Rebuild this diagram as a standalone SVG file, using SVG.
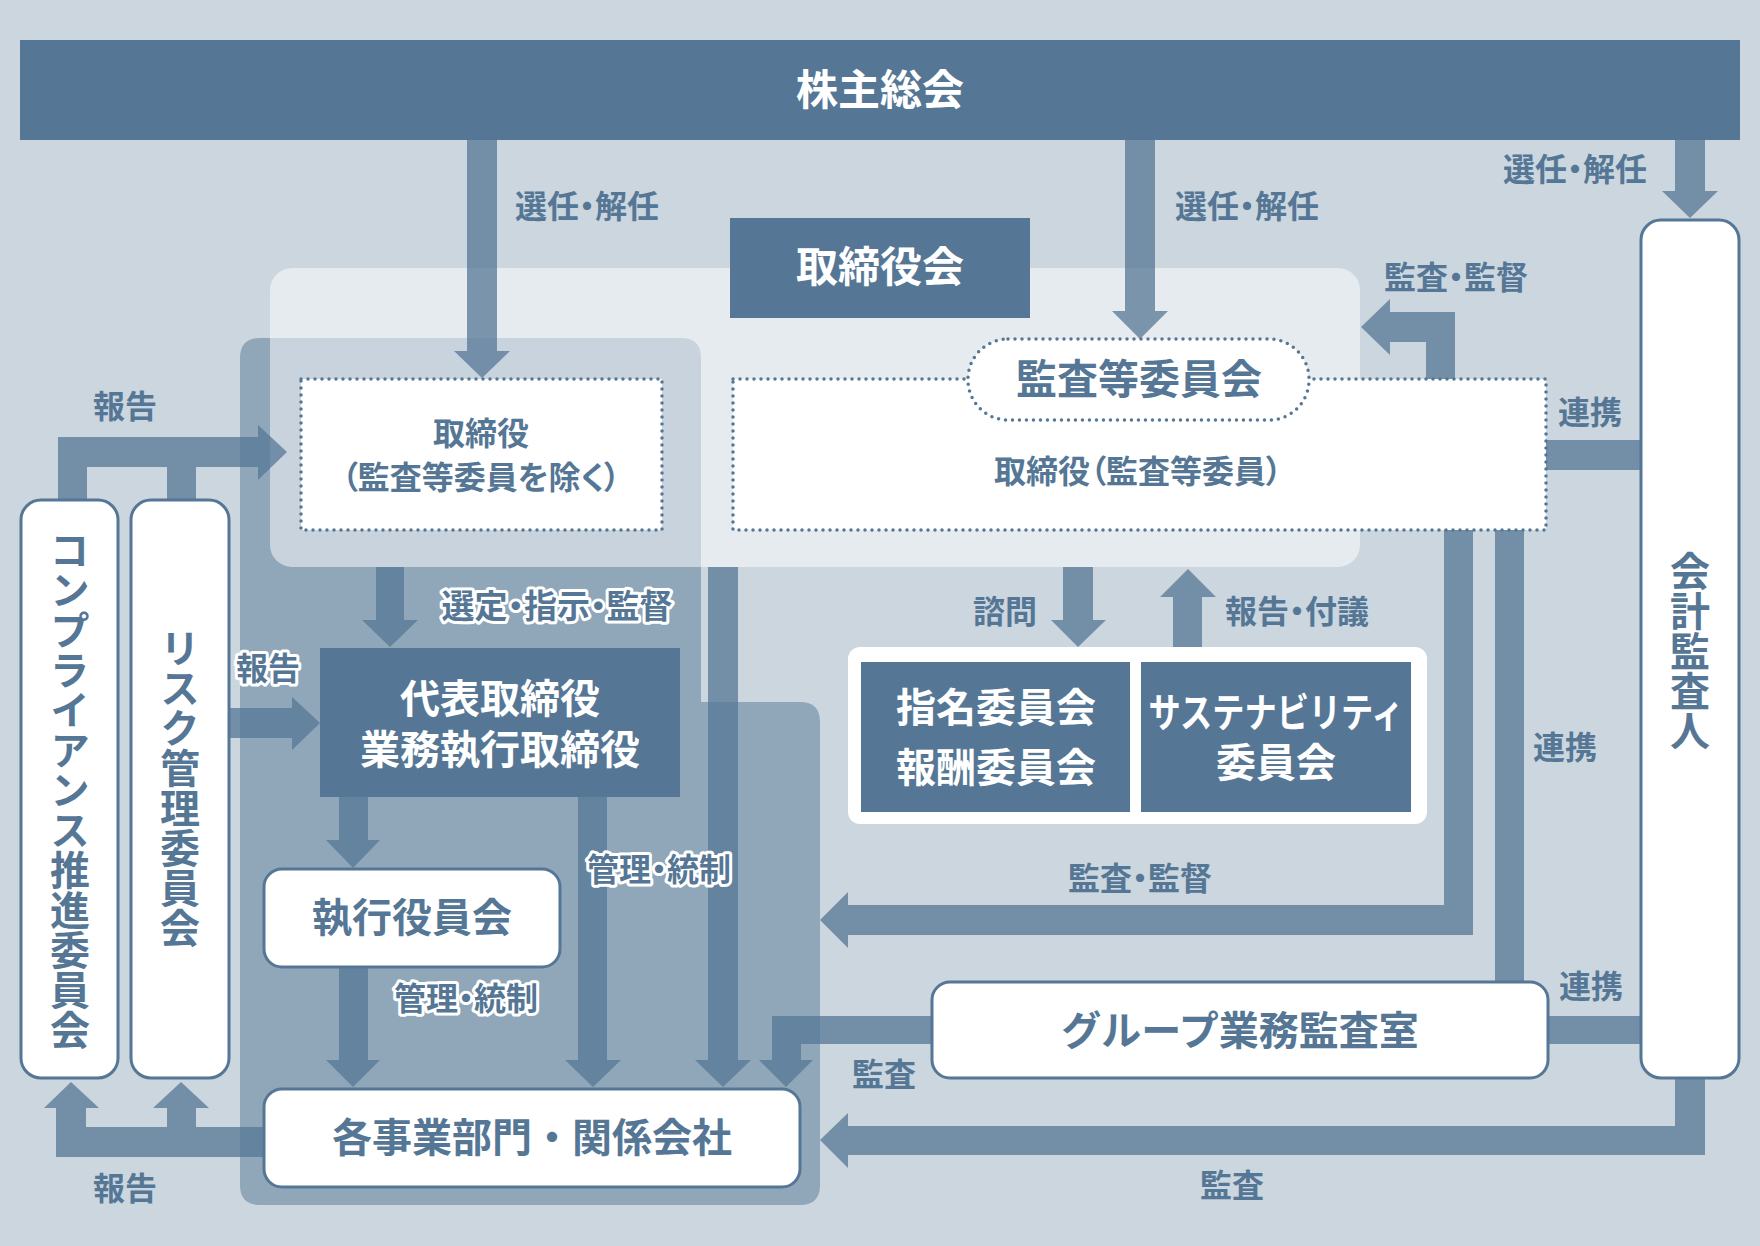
<svg xmlns="http://www.w3.org/2000/svg" width="1760" height="1246" viewBox="0 0 1760 1246">
<style>
text{font-family:"Noto Sans CJK JP","Noto Sans CJK SC",sans-serif;font-weight:700}
.wt{fill:#fff;text-anchor:middle;font-size:40px}
.bt{fill:#557795;text-anchor:middle;font-size:40px}
.mt{fill:#557795;text-anchor:middle;font-size:32px;font-feature-settings:"palt"}
.lbl{fill:#557795;text-anchor:middle;font-size:32px;font-feature-settings:"palt"}
.halo{paint-order:stroke;stroke:#fff;stroke-width:6px;stroke-linejoin:round}
.dark{fill:#557795}
.box{fill:#fff;stroke:#557795;stroke-width:3}
.dot{fill:#fff;stroke:#557795;stroke-width:3.5;stroke-dasharray:0 7;stroke-linecap:round}
.arr{fill:#557795;fill-opacity:0.75}
.vt{writing-mode:vertical-rl;text-orientation:upright}
</style>
<rect width="1760" height="1246" fill="#cbd6df"/>
<path id="exec-area" d="M260,338 H681 Q701,338 701,358 V702 H800 Q820,702 820,722 V1185 Q820,1205 800,1205 H260 Q240,1205 240,1185 V358 Q240,338 260,338 Z" fill="#557795" fill-opacity="0.5"/>
<rect id="board-area" x="270" y="268" width="1090" height="299" rx="22" fill="#fff" fill-opacity="0.5"/>

<g id="connectors">
  <path class="arr" d="M467,140 H497 V351 H510 L482,378 L454,351 H467 Z"/>
  <path class="arr" d="M1125,140 H1155 V311 H1168 L1140,339 L1112,311 H1125 Z"/>
  <path class="arr" d="M1675,140 H1705 V191 H1718 L1690,218 L1662,191 H1675 Z"/>
  <path class="arr" d="M1455,382 V312 H1390 V299 L1361,327 L1390,355 V342 H1426 V382 Z"/>
  <rect class="arr" x="1546" y="440" width="96" height="30"/>
  <path class="arr" d="M1444,530 H1473 V935 H848 V948 L820,920 L848,892 V905 H1444 Z"/>
  <rect class="arr" x="1495" y="530" width="29" height="452"/>
  <rect class="arr" x="1548" y="1016" width="93" height="28"/>
  <path class="arr" d="M932,1016 H772 V1060 H759 L786,1087 L813,1060 H801 V1044 H932 Z"/>
  <path class="arr" d="M1675,1078 H1705 V1155 H848 V1168 L820,1140 L848,1113 V1126 H1675 Z"/>
  <path class="arr" d="M1063,567 H1093 V620 H1106 L1078,647 L1051,620 H1063 Z"/>
  <path class="arr" d="M1173,647 V597 H1160 L1188,569 L1216,597 H1202 V647 Z"/>
  <path class="arr" d="M376,567 H404 V620 H418 L390,647 L362,620 H376 Z"/>
  <path class="arr" d="M229,708 H292 V697 L320,723 L292,750 V738 H229 Z"/>
  <path class="arr" d="M58,500 V437 H258 V425 L287,452 L258,480 V467 H196 V500 H167 V467 H87 V500 Z"/>
  <path class="arr" d="M339,797 H368 V840 H380 L353,868 L326,840 H339 Z"/>
  <path class="arr" d="M339,967 H368 V1060 H380 L353,1087 L326,1060 H339 Z"/>
  <path class="arr" d="M578,797 H607 V1060 H621 L593,1087 L565,1060 H578 Z"/>
  <path class="arr" d="M708,567 H738 V1060 H751 L723,1087 L695,1060 H708 Z"/>
  <path class="arr" d="M264,1127 H196 V1108 H209 L181,1082 L153,1108 H167 V1127 H86 V1108 H99 L71,1082 L44,1108 H56 V1157 H264 Z"/>

  <text class="lbl" x="587" y="218">選任・解任</text>
  <text class="lbl" x="1247" y="218">選任・解任</text>
  <text class="lbl" x="1575" y="181">選任・解任</text>
  <text class="lbl" x="1456" y="289">監査・監督</text>
  <text class="lbl" x="1590" y="424">連携</text>
  <text class="lbl" x="125" y="418">報告</text>
  <text class="lbl halo" x="557" y="618" style="font-size:33px">選定・指示・監督</text>
  <text class="lbl halo" x="268" y="680">報告</text>
  <text class="lbl" x="1005" y="623">諮問</text>
  <text class="lbl" x="1297" y="623">報告・付議</text>
  <text class="lbl" x="1565" y="759">連携</text>
  <text class="lbl halo" x="659" y="881">管理・統制</text>
  <text class="lbl" x="1140" y="890">監査・監督</text>
  <text class="lbl halo" x="466" y="1010">管理・統制</text>
  <text class="lbl" x="1591" y="998">連携</text>
  <text class="lbl" x="884" y="1086">監査</text>
  <text class="lbl" x="1232" y="1197">監査</text>
  <text class="lbl" x="125" y="1200">報告</text>
</g>

<g id="shareholders">
  <rect class="dark" x="20" y="40" width="1720" height="100"/>
  <text class="wt" x="880" y="105" style="font-size:42px">株主総会</text>
</g>
<g id="board">
  <rect class="dark" x="730" y="218" width="300" height="100"/>
  <text class="wt" x="880" y="282" style="font-size:42px">取締役会</text>
</g>
<g id="directors">
  <rect class="dot" x="301" y="379" width="361" height="151"/>
  <text class="mt" x="481" y="445">取締役<tspan x="481" y="489">（監査等委員を除く）</tspan></text>
</g>
<g id="audit-directors">
  <rect class="dot" x="733" y="379" width="813" height="151"/>
  <text class="mt" x="1138" y="483">取締役（監査等委員）</text>
</g>
<g id="audit-committee">
  <rect class="dot" x="968" y="339" width="341" height="81" rx="40"/>
  <text class="bt" x="1139" y="394" style="font-size:41px">監査等委員会</text>
</g>
<g id="committees">
  <rect x="848" y="647" width="579" height="177" rx="12" fill="#fff"/>
  <rect class="dark" x="861" y="662" width="269" height="150"/>
  <text class="wt" x="996" y="722">指名委員会<tspan x="996" y="782">報酬委員会</tspan></text>
  <rect class="dark" x="1141" y="662" width="270" height="150"/>
  <text class="wt" x="1276" y="727" textLength="255" lengthAdjust="spacingAndGlyphs">サステナビリティ</text>
  <text class="wt" x="1276" y="777">委員会</text>
</g>
<g id="accounting-auditor">
  <rect class="box" x="1641" y="220" width="98" height="858" rx="20"/>
  <text class="bt vt" x="1690" y="651">会計監査人</text>
</g>
<g id="compliance">
  <rect class="box" x="21" y="500" width="97" height="578" rx="20"/>
  <text class="bt vt" x="70" y="790">コンプライアンス推進委員会</text>
</g>
<g id="risk">
  <rect class="box" x="131" y="500" width="98" height="578" rx="20"/>
  <text class="bt vt" x="180" y="788">リスク管理委員会</text>
</g>
<g id="representative">
  <rect class="dark" x="320" y="648" width="360" height="149"/>
  <text class="wt" x="500" y="713">代表取締役<tspan x="500" y="764">業務執行取締役</tspan></text>
</g>
<g id="executive-officers">
  <rect class="box" x="264" y="869" width="296" height="98" rx="18"/>
  <text class="bt" x="412" y="932">執行役員会</text>
</g>
<g id="business-units">
  <rect class="box" x="264" y="1089" width="536" height="98" rx="18"/>
  <text class="bt" x="532" y="1152">各事業部門・関係会社</text>
</g>
<g id="group-audit">
  <rect class="box" x="932" y="982" width="616" height="96" rx="18"/>
  <text class="bt" x="1240" y="1045">グループ業務監査室</text>
</g>
</svg>
